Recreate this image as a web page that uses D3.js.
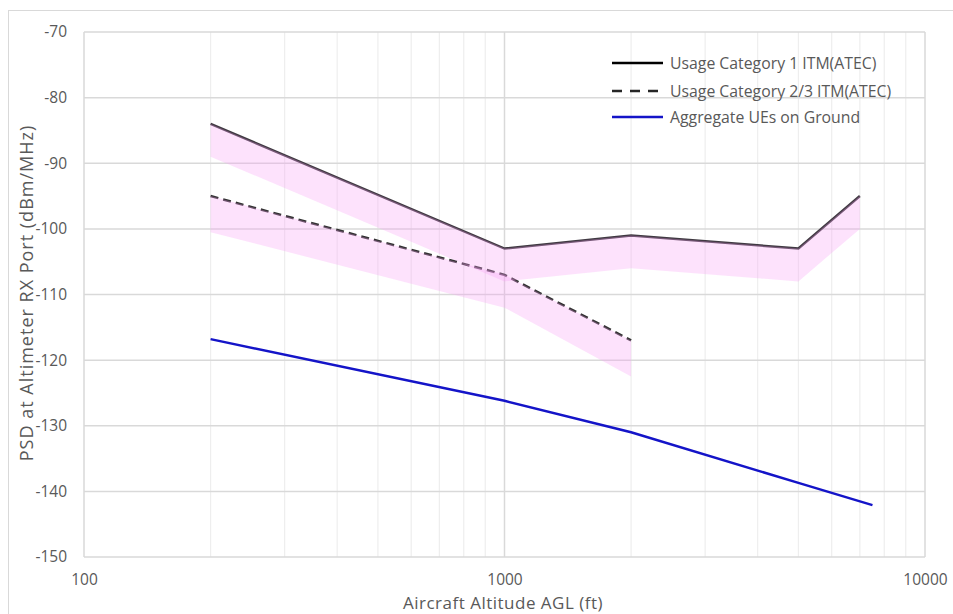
<!DOCTYPE html>
<html><head><meta charset="utf-8">
<script src="https://cdn.jsdelivr.net/npm/d3@7"></script>
<style>
html,body{margin:0;padding:0;background:#fff;}
svg{display:block;}
text{font-family:"Open Sans",sans-serif;fill:#595959;}
</style></head>
<body>
<svg id="chart" width="953" height="614"></svg>
<script>
// ---- data ----
const alt1 = [200, 1000, 2000, 5000, 7000];
const cat1 = [-84, -103, -101, -103, -95];
const cat1Low = [-89, -108, -106, -108, -100];
const alt23 = [200, 1000, 2000];
const cat23 = [-95, -107, -117];
const cat23Low = [-100.5, -112, -122.5];
const altUE = [200, 1000, 2000, 5000, 7500];
const ue = [-116.8, -126.2, -131, -138.7, -142.1];
const yTicks = [-70, -80, -90, -100, -110, -120, -130, -140, -150];
const xTicks = [100, 1000, 10000];
const legendLabels = ["Usage Category 1 ITM(ATEC)", "Usage Category 2/3 ITM(ATEC)", "Aggregate UEs on Ground"];
const xTitle = "Aircraft Altitude AGL (ft)";
const yTitle = "PSD at Altimeter RX Port (dBm/MHz)";

const svg = d3.select("#chart");
const L = 84, R = 925, T = 32, B = 557;
const x = d3.scaleLog().domain([100, 10000]).range([L, R]);
const y = d3.scaleLinear().domain([-150, -70]).range([B, T]);

// outer border
svg.append("rect").attr("x", 8.5).attr("y", 10.5).attr("width", 1000).attr("height", 700)
  .attr("fill", "none").attr("stroke", "#d9d9d9").attr("stroke-width", 1);

// grid
const minor = [];
[100, 1000].forEach(d => { for (let k = 2; k <= 9; k++) minor.push(d * k); });
const g = svg.append("g");
g.selectAll("line.minor").data(minor).join("line")
  .attr("x1", d => x(d)).attr("x2", d => x(d)).attr("y1", T).attr("y2", B)
  .attr("stroke", "#eeeeee").attr("stroke-width", 1.2);
g.selectAll("line.major").data(xTicks).join("line")
  .attr("x1", d => x(d)).attr("x2", d => x(d)).attr("y1", T).attr("y2", B)
  .attr("stroke", "#d9d9d9").attr("stroke-width", 1.5);
g.selectAll("line.h").data(yTicks).join("line")
  .attr("x1", L).attr("x2", R).attr("y1", d => y(d)).attr("y2", d => y(d))
  .attr("stroke", "#d9d9d9").attr("stroke-width", 1.5);

// axes labels via d3 axes
const fmt = d => String(d);
const yAxis = svg.append("g").attr("transform", `translate(${L},0)`)
  .call(d3.axisLeft(y).tickValues(yTicks).tickSize(0).tickPadding(17).tickFormat(fmt));
yAxis.select(".domain").remove();
yAxis.selectAll("text").style("font-size", "15.5px").attr("fill", "#595959").attr("font-family", "Open Sans");
const xAxis = svg.append("g").attr("transform", `translate(0,${B})`)
  .call(d3.axisBottom(x).tickValues(xTicks).tickSize(0).tickPadding(17).tickFormat(fmt));
xAxis.select(".domain").remove();
xAxis.selectAll("text").style("font-size", "15.5px").attr("fill", "#595959").attr("font-family", "Open Sans");

// lines
const line = (xs) => d3.line().x((d, i) => x(xs[i])).y(d => y(d));
svg.append("path").attr("d", line(alt1)(cat1)).attr("fill", "none")
  .attr("stroke", "#403a42").attr("stroke-width", 2.5);
svg.append("path").attr("d", line(alt23)(cat23)).attr("fill", "none")
  .attr("stroke", "#333333").attr("stroke-width", 2.5).attr("stroke-dasharray", "8,5");
svg.append("path").attr("d", line(altUE)(ue)).attr("fill", "none")
  .attr("stroke", "#1414c8").attr("stroke-width", 2.5);

// bands (translucent, over lines)
const area = (xs, lo) => d3.area().x((d, i) => x(xs[i])).y0((d, i) => y(lo[i])).y1(d => y(d));
svg.append("path").attr("d", area(alt1, cat1Low)(cat1)).attr("fill", "rgb(248,160,245)").attr("fill-opacity", 0.3);
svg.append("path").attr("d", area(alt23, cat23Low)(cat23)).attr("fill", "rgb(248,160,245)").attr("fill-opacity", 0.3);

// legend
const lg = svg.append("g");
const ly = [63, 91, 117];
const lstyles = [{c: "#000", d: null}, {c: "#262626", d: "10,8"}, {c: "#1414c8", d: null}];
legendLabels.forEach((t, i) => {
  lg.append("line").attr("x1", 612).attr("x2", 663).attr("y1", ly[i]).attr("y2", ly[i])
    .attr("stroke", lstyles[i].c).attr("stroke-width", 2.5).attr("stroke-dasharray", lstyles[i].d);
  lg.append("text").attr("x", 670).attr("y", ly[i]).attr("dy", "0.35em")
    .style("font-size", "15.8px").text(t);
});

// titles
svg.append("text").attr("x", 503).attr("y", 609).attr("text-anchor", "middle")
  .style("font-size", "17px").style("letter-spacing", "0.5px").text(xTitle);
svg.append("text").attr("transform", `translate(33,${293}) rotate(-90)`).attr("text-anchor", "middle")
  .style("font-size", "18px").style("letter-spacing", "1px").text(yTitle);
</script>
</body></html>
